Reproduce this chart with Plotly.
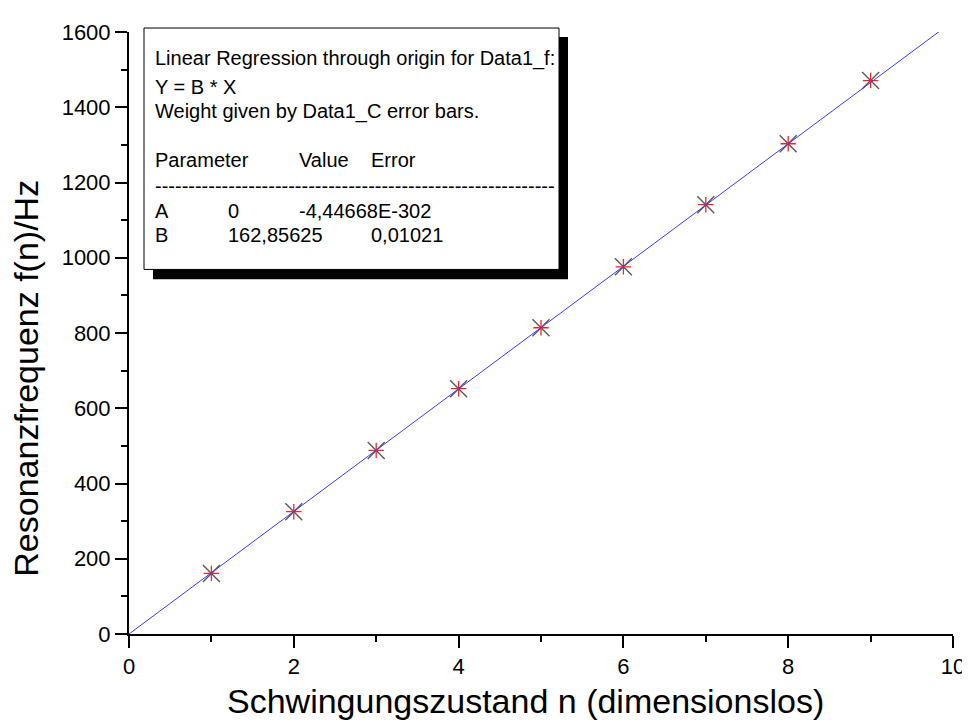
import plotly.graph_objects as go

# ---- data ----
n_values = [1, 2, 3, 4, 5, 6, 7, 8, 9]
freq_values = [161, 325, 488, 652, 814, 976, 1141, 1303, 1471]
slope_B = 162.85625
fit_x = [0, 10]
fit_y = [0, slope_B * 10]

x_tick_vals = [0, 2, 4, 6, 8, 10]
y_tick_vals = [0, 200, 400, 600, 800, 1000, 1200, 1400, 1600]

box_lines = [
    "Linear Regression through origin for Data1_f:",
    "Y = B * X",
    "Weight given by Data1_C error bars.",
]
table_header = ["Parameter", "Value", "Error"]
table_rows = [["A", "0", "-4,44668E-302"], ["B", "162,85625", "0,01021"]]

FONT = "Liberation Sans, Arial, sans-serif"

# plot area in target-screen pixels
L, R, T, B = 129, 953, 28, 634
W, H = 970, 726
OFF = 8  # page body margin


def px(xp):
    return (xp - L) / (R - L)


def py(yp):
    return (B - yp) / (B - T)


fig = go.Figure()

fig.add_trace(go.Scatter(
    x=n_values, y=freq_values, mode="markers",
    marker=dict(symbol="x-thin", size=17, line=dict(color="#5a5a5a", width=1.4)),
    showlegend=False, hoverinfo="skip"))
fig.add_trace(go.Scatter(
    x=n_values, y=freq_values, mode="markers",
    marker=dict(symbol="cross-thin", size=11, line=dict(color="#ff2020", width=1.3)),
    showlegend=False, hoverinfo="skip"))
fig.add_trace(go.Scatter(
    x=fit_x, y=fit_y, mode="lines",
    line=dict(color="#3a3aff", width=1),
    showlegend=False, hoverinfo="skip"))

shapes = [
    dict(type="rect", xref="paper", yref="paper",
         x0=px(153), x1=px(568), y0=py(277), y1=py(33),
         fillcolor="black", line=dict(width=0), layer="above"),
    dict(type="rect", xref="paper", yref="paper",
         x0=px(144), x1=px(559), y0=py(267), y1=py(24),
         fillcolor="white", line=dict(color="black", width=1), layer="above"),
]

annotations = []


def txt(s, xpix, ypix, size=20, xanchor="left", **kw):
    annotations.append(dict(
        text=s, x=px(xpix), y=py(ypix), xref="paper", yref="paper",
        xanchor=xanchor, yanchor="middle", showarrow=False,
        font=dict(family=FONT, size=size, color="black"), **kw))


line_y = [55, 83, 108]
for s, yy in zip(box_lines, line_y):
    txt(s, 153, yy)
txt(table_header[0], 153, 157)
txt(table_header[1], 297, 157)
txt(table_header[2], 369, 157)
txt("-" * 60, 153, 183)
txt(table_rows[0][0], 153, 208)
txt(table_rows[0][1], 226, 208)
txt(table_rows[0][2], 297, 208)
txt(table_rows[1][0], 153, 232)
txt(table_rows[1][1], 226, 232)
txt(table_rows[1][2], 369, 232)

# axis titles
txt("Schwingungszustand n (dimensionslos)", 525, 701, size=34, xanchor="center")
annotations.append(dict(
    text="Resonanzfrequenz f(n)/Hz", x=px(26), y=py(377), xref="paper", yref="paper",
    xanchor="center", yanchor="middle", showarrow=False, textangle=-90,
    font=dict(family=FONT, size=34, color="black")))

axis_common = dict(ticks="outside", ticklen=12, tickwidth=2, tickcolor="black",
                   showline=True, linewidth=2, linecolor="black",
                   showgrid=False, zeroline=False, tickfont=dict(size=22))

fig.update_layout(
    width=W, height=H,
    margin=dict(l=L - OFF, r=W - R + OFF, t=T - OFF, b=H - B + OFF, pad=0),
    paper_bgcolor="white", plot_bgcolor="white",
    font=dict(family=FONT, size=22, color="black"),
    shapes=shapes, annotations=annotations,
    xaxis=dict(range=[0, 10], tickvals=x_tick_vals,
               minor=dict(dtick=1, ticks="outside", ticklen=6, tickwidth=2,
                          tickcolor="black", showgrid=False),
               **axis_common),
    yaxis=dict(range=[0, 1600], tickvals=y_tick_vals,
               minor=dict(dtick=100, ticks="outside", ticklen=6, tickwidth=2,
                          tickcolor="black", showgrid=False),
               **axis_common),
)

fig.write_html("out.html")
